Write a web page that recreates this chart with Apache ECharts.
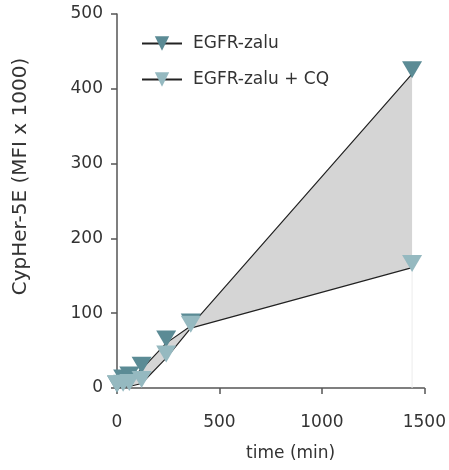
<!DOCTYPE html>
<html><head><meta charset="utf-8">
<script src="https://cdn.jsdelivr.net/npm/echarts@6/dist/echarts.min.js"></script>
<style>html,body{margin:0;padding:0;background:#fff}#c{width:449px;height:470px}</style>
</head><body><div id="c"></div>
<script>
const times = [0, 30, 60, 120, 240, 360, 1440];
const egfrZalu = [0, 8, 12, 25, 60, 83, 420];
const egfrZaluCQ = [0, 1, 2, 6, 40, 80, 161];
const xTicks = [0, 500, 1000, 1500];
const yTicks = [0, 100, 200, 300, 400, 500];

const darkC = '#5b8b95', lightC = '#95b9c0';
const font = 'DejaVu Sans';
const pair = (xs, ys) => xs.map((x, i) => [x, ys[i]]);
const bandRows = times.map((t, i) => [t, egfrZalu[i], egfrZaluCQ[i]]);

const chart = echarts.init(document.getElementById('c'), null, {renderer: 'canvas'});
chart.setOption({
  animation: false,
  grid: {left: 117, right: 23, top: 14, bottom: 82},
  legend: {
    orient: 'vertical', left: 136, top: 30, itemGap: 19,
    itemWidth: 40, itemHeight: 18,
    textStyle: {fontFamily: font, fontSize: 17, color: '#333', padding: [0, 0, 0, 6]},
    data: ['EGFR-zalu', 'EGFR-zalu + CQ']
  },
  xAxis: {
    type: 'value', min: xTicks[0], max: xTicks[xTicks.length - 1], interval: 500,
    name: 'time (min)', nameLocation: 'middle', nameGap: 57,
    nameTextStyle: {fontFamily: font, fontSize: 17, color: '#333', padding: [0, 0, 0, 40]},
    axisLine: {show: true, lineStyle: {color: '#555', width: 1.5}},
    axisTick: {show: true, length: 6, lineStyle: {color: '#555', width: 1.5}},
    axisLabel: {fontFamily: font, fontSize: 17, color: '#333', margin: 26, formatter: v => String(v)},
    splitLine: {show: false}
  },
  yAxis: {
    type: 'value', min: yTicks[0], max: yTicks[yTicks.length - 1], interval: 100,
    name: 'CypHer-5E (MFI x 1000)', nameLocation: 'middle', nameGap: 86,
    nameTextStyle: {fontFamily: font, fontSize: 20, color: '#333', padding: [0, 0, 0, 49]},
    axisLine: {show: true, lineStyle: {color: '#555', width: 1.5}},
    axisTick: {show: true, length: 6, lineStyle: {color: '#555', width: 1.5}},
    axisLabel: {fontFamily: font, fontSize: 17, color: '#333', margin: 14, formatter: v => String(v)},
    splitLine: {show: false}
  },
  series: [
    {
      name: 'band', type: 'custom', silent: true, z: 1,
      data: bandRows,
      renderItem: (params, api) => {
        if (params.dataIndex !== 0) return null;
        const top = bandRows.map(r => api.coord([r[0], r[1]]));
        const bot = bandRows.map(r => api.coord([r[0], r[2]])).reverse();
        const last = bandRows[bandRows.length - 1];
        const e0 = api.coord([last[0], 0]), e1 = api.coord([last[0], last[2]]);
        return {type: 'group', children: [
          {type: 'polygon', shape: {points: top.concat(bot)}, style: {fill: '#d5d5d5', stroke: null}},
          {type: 'line', shape: {x1: e0[0], y1: e0[1], x2: e1[0], y2: e1[1]}, style: {stroke: '#ececec', lineWidth: 1}}
        ]};
      }
    },
    {
      name: 'EGFR-zalu', type: 'line', data: pair(times, egfrZalu),
      symbol: 'triangle', symbolSize: [20, 17], symbolRotate: 180, symbolOffset: [0, -4],
      itemStyle: {color: darkC}, lineStyle: {color: '#222', width: 1.2}, z: 3
    },
    {
      name: 'EGFR-zalu + CQ', type: 'line', data: pair(times, egfrZaluCQ),
      symbol: 'triangle', symbolSize: [20, 17], symbolRotate: 180, symbolOffset: [0, -4],
      itemStyle: {color: lightC}, lineStyle: {color: '#222', width: 1.2}, z: 4
    }
  ]
});
</script></body></html>
